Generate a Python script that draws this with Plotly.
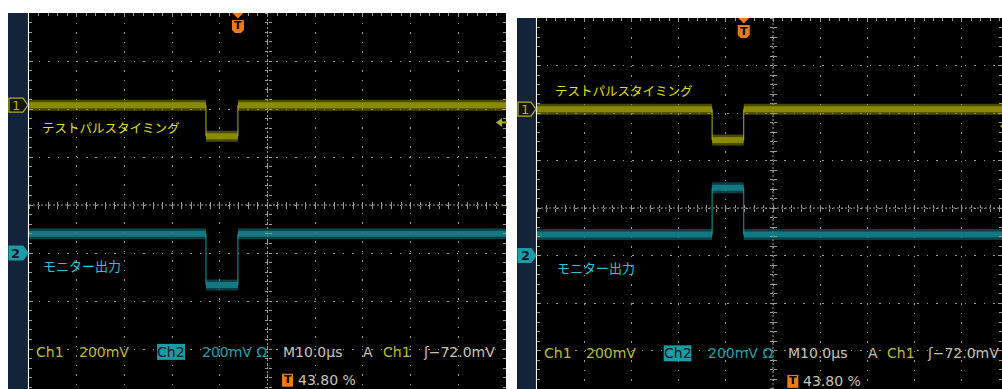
import plotly.graph_objects as go

# ---------------- acquisition settings ----------------
TIME_PER_DIV_US = 10.0
TRIGGER_POS_PCT = 43.80
N_HDIV = 10
VOLTS_PER_DIV_MV = 200
TRIGGER_LEVEL_MV = -72.0
CH1_POS_DIV = 2.08
CH2_POS_DIV = -1.0

# ---------------- waveform data ----------------
# each channel: [baseline, pulse level, baseline] in mV; pulse edges in µs
pulse_a_us = [-6.7, 0.0]
ch1_a_mv = [0, -130, 0]
ch2_a_mv = [80, -133, 80]

pulse_b_us = [-6.7, 0.0]
ch1_b_mv = [0, -130, 0]
ch2_b_mv = [88, 285, 88]

ch1_label = "テストパルスタイミング"
ch2_label = "モニター出力"

# ---------------- page geometry ----------------
W, H = 1002, 389

panels = [
    dict(left=29, right=506, top=13, hdiv=47.7, vdiv=48.0, strip=8,
         pulse=pulse_a_us, ch1=ch1_a_mv, ch2=ch2_a_mv,
         lab1=(40, 127), lab2=(41, 265)),
    dict(left=537, right=1010, top=18, hdiv=47.2, vdiv=47.5, strip=517,
         pulse=pulse_b_us, ch1=ch1_b_mv, ch2=ch2_b_mv,
         lab1=(553, 90), lab2=(555, 267)),
]

# colours
BG_STRIP = "#12233a"
GRID = "#9a9a86"
CENTER = "#9a9a86"
CH1_BAND = "rgba(135,135,0,0.55)"
CH1_MID = "rgba(160,160,10,0.75)"
CH1_CORE = "#b0b020"
CH2_BAND = "rgba(16,115,125,0.55)"
CH2_MID = "rgba(22,140,150,0.75)"
CH2_CORE = "#1a9ca6"
CH1_TXT = "#bcbc2c"
CH2_TXT = "#1aa2ae"
NEUTRAL = "#c8c4b0"
LAB1 = "#e2e200"
LAB2 = "#26c4dc"
ORANGE = "#f07a10"
MONO = "DejaVu Sans"
JP = "Noto Sans CJK JP"


def pt(x, y):
    return f"{x / W:.5f},{1 - y / H:.5f}"


def path(points):
    return "M" + " L".join(pt(x, y) for x, y in points) + " Z"


t0 = -TRIGGER_POS_PCT / 100 * N_HDIV * TIME_PER_DIV_US
t_full = t0 + N_HDIV * TIME_PER_DIV_US
center_t = t0 + N_HDIV / 2 * TIME_PER_DIV_US

fig = go.Figure()
shapes, annotations = [], []
layout_axes = {}
extra = 3  # next free axis index for the centre-line tick scales

for i, p in enumerate(panels):
    xa = "x" if i == 0 else f"x{i + 1}"
    ya = "y" if i == 0 else f"y{i + 1}"
    xkey = "xaxis" if i == 0 else f"xaxis{i + 1}"
    ykey = "yaxis" if i == 0 else f"yaxis{i + 1}"

    left, top, hdiv, vdiv = p["left"], p["top"], p["hdiv"], p["vdiv"]
    cy = top + 4 * vdiv
    right_vis = min(p["right"], W)
    t_end = t0 + (right_vis - left) / hdiv * TIME_PER_DIV_US
    y_bot = -(H - cy) / vdiv

    def tx(t, left=left, hdiv=hdiv):
        return left + (t - t0) / TIME_PER_DIV_US * hdiv

    def dy(d, cy=cy, vdiv=vdiv):
        return cy - d * vdiv

    cx = tx(center_t)

    layout_axes[xkey] = dict(
        domain=[left / W, right_vis / W], range=[t0, t_end], anchor=ya,
        side="top", showgrid=True, gridcolor=GRID, griddash="1.5px,8px",
        gridwidth=1, dtick=TIME_PER_DIV_US, tick0=t0, showticklabels=False,
        ticks="inside", ticklen=4, tickcolor=GRID,
        minor=dict(dtick=TIME_PER_DIV_US / 5, tick0=t0, ticks="inside",
                   ticklen=3, tickcolor=GRID, showgrid=False),
        zeroline=False, showline=False, fixedrange=True)
    layout_axes[ykey] = dict(
        domain=[0, 1 - top / H], range=[y_bot, 4], anchor=xa,
        showgrid=True, gridcolor=GRID, griddash="1.5px,8px", gridwidth=1,
        dtick=1, tick0=0, showticklabels=False, ticks="inside", ticklen=4,
        tickcolor=GRID, mirror="ticks",
        minor=dict(dtick=0.2, tick0=0, ticks="inside", ticklen=3,
                   tickcolor=GRID, showgrid=False),
        zeroline=False, showline=False, fixedrange=True)

    # tick scales along the centre crosshair (one scale per tick direction)
    for direction in ("inside", "outside"):
        layout_axes[f"xaxis{extra}"] = dict(
            overlaying=xa, anchor="free", position=1 - cy / H, side="bottom",
            range=[t0, t_end], dtick=TIME_PER_DIV_US / 5, tick0=t0,
            ticks=direction, ticklen=3, tickcolor=GRID, showgrid=False,
            showticklabels=False, zeroline=False, showline=False, fixedrange=True)
        layout_axes[f"yaxis{extra}"] = dict(
            overlaying=ya, anchor="free", position=cx / W, side="left",
            range=[y_bot, 4], dtick=0.2, tick0=0,
            ticks=direction, ticklen=3, tickcolor=GRID, showgrid=False,
            showticklabels=False, zeroline=False, showline=False, fixedrange=True)
        # empty trace so the scale pair is laid out
        fig.add_trace(go.Scatter(x=[], y=[], xaxis=f"x{extra}", yaxis=f"y{extra}",
                                 hoverinfo="skip", showlegend=False))
        extra += 1

    # waveform traces
    ps, pe = p["pulse"]
    for mv, pos, band, mid, core in (
            (p["ch1"], CH1_POS_DIV, CH1_BAND, CH1_MID, CH1_CORE),
            (p["ch2"], CH2_POS_DIV, CH2_BAND, CH2_MID, CH2_CORE)):
        lv = [pos + v / VOLTS_PER_DIV_MV for v in mv]
        xs = [t0, ps, None, ps, pe, None, pe, t_full]
        ys = [lv[0], lv[0], None, lv[1], lv[1], None, lv[2], lv[2]]
        for col, wd in ((band, 11), (mid, 6)):
            fig.add_trace(go.Scatter(x=xs, y=ys, xaxis=xa, yaxis=ya, mode="lines",
                                     line=dict(color=col, width=wd),
                                     hoverinfo="skip", showlegend=False))
        fig.add_trace(go.Scatter(x=[ps, ps, None, pe, pe],
                                 y=[lv[0], lv[1], None, lv[1], lv[2]],
                                 xaxis=xa, yaxis=ya, mode="lines",
                                 line=dict(color=core, width=1),
                                 hoverinfo="skip", showlegend=False))

    # side strip
    shapes.append(dict(type="rect", xref="paper", yref="paper", layer="below",
                       x0=p["strip"] / W, x1=(left - 1) / W, y0=0, y1=1 - top / H,
                       fillcolor=BG_STRIP, line=dict(width=0)))
    shapes.append(dict(type="line", xref="paper", yref="paper", layer="below",
                       x0=(left - 1.5) / W, x1=(left - 1.5) / W, y0=0, y1=1 - top / H,
                       line=dict(color="#1d2f5a", width=1)))

    # centre crosshair
    shapes.append(dict(type="line", xref="paper", yref="paper", layer="below",
                       x0=left / W, x1=right_vis / W, y0=1 - cy / H, y1=1 - cy / H,
                       line=dict(color=CENTER, width=1, dash="2px,2px")))
    shapes.append(dict(type="line", xref="paper", yref="paper", layer="below",
                       x0=cx / W, x1=cx / W, y0=0, y1=1 - top / H,
                       line=dict(color=CENTER, width=1, dash="2px,2px")))

    # trigger position marker
    tt = tx(0.0)
    shapes.append(dict(type="path", xref="paper", yref="paper",
                       path=path([(tt - 5.5, top), (tt + 5.5, top), (tt, top + 5.5)]),
                       fillcolor=ORANGE, line=dict(width=0)))
    shapes.append(dict(type="path", xref="paper", yref="paper",
                       path=path([(tt - 6, top + 7), (tt + 6, top + 7), (tt + 6, top + 17),
                                  (tt + 3, top + 20), (tt - 3, top + 20), (tt - 6, top + 17)]),
                       fillcolor=ORANGE, line=dict(width=0)))
    annotations.append(dict(text="<b>T</b>", x=tt / W, y=1 - (top + 13) / H,
                            xref="paper", yref="paper", showarrow=False,
                            font=dict(family=MONO, size=11, color="#000000"),
                            xanchor="center", yanchor="middle"))

    # trigger level arrow at the right edge
    ty = dy(CH1_POS_DIV + TRIGGER_LEVEL_MV / VOLTS_PER_DIV_MV)
    ax0 = p["right"] - 10
    shapes.append(dict(type="path", xref="paper", yref="paper",
                       path=path([(ax0, ty), (ax0 + 6, ty - 4.5), (ax0 + 6, ty + 4.5)]),
                       fillcolor=CH1_CORE, line=dict(width=0)))
    shapes.append(dict(type="line", xref="paper", yref="paper",
                       x0=(ax0 + 5) / W, x1=(ax0 + 11) / W, y0=1 - ty / H, y1=1 - ty / H,
                       line=dict(color=CH1_CORE, width=2)))

    # channel ground markers
    s0 = p["strip"] + 1
    for num, pos, filled, col in (("1", CH1_POS_DIV, False, CH1_CORE),
                                   ("2", CH2_POS_DIV, True, CH2_CORE)):
        my = dy(pos)
        pts = [(s0, my - 7), (left - 6, my - 7), (left - 1, my),
               (left - 6, my + 7), (s0, my + 7)]
        shapes.append(dict(type="path", xref="paper", yref="paper", path=path(pts),
                           fillcolor=col if filled else "#14140a",
                           line=dict(color=col, width=1.2)))
        annotations.append(dict(text=f"<b>{num}</b>" if filled else num,
                                x=(s0 + 7) / W, y=1 - my / H,
                                xref="paper", yref="paper", showarrow=False,
                                font=dict(family=MONO, size=13,
                                          color="#0c1a26" if filled else col),
                                xanchor="center", yanchor="middle"))

    # channel labels
    for txt, (lx, ly), col, sz in ((ch1_label, p["lab1"], LAB1, 12.5),
                                    (ch2_label, p["lab2"], LAB2, 13)):
        annotations.append(dict(text=txt, x=lx / W, y=1 - ly / H, xref="paper",
                                yref="paper", showarrow=False, xanchor="left",
                                yanchor="middle",
                                font=dict(family=JP, size=sz, color=col)))

    # readout line
    ry = cy + 3.06 * vdiv
    ry2 = cy + 3.64 * vdiv

    def rx(x_ref, left=left, hdiv=hdiv):
        return left + (x_ref - 29) / 47.7 * hdiv

    trig_txt = f"{TRIGGER_LEVEL_MV:.1f}mV".replace("-", "\u2212")
    readout = [
        ("Ch1", 34, CH1_TXT),
        (f"{VOLTS_PER_DIV_MV}mV", 77, CH1_TXT),
        (f"{VOLTS_PER_DIV_MV}mV \u03a9", 200, CH2_TXT),
        (f"M{TIME_PER_DIV_US:.1f}\u00b5s", 281, NEUTRAL),
        ("A", 361, NEUTRAL),
        ("Ch1", 381, CH1_TXT),
        ("\u0283" + trig_txt, 421, NEUTRAL),
    ]
    for txt, xr, col in readout:
        annotations.append(dict(text=txt, x=rx(xr) / W, y=1 - ry / H, xref="paper",
                                yref="paper", showarrow=False, xanchor="left",
                                yanchor="middle",
                                font=dict(family=MONO, size=14, color=col)))
    # Ch2 highlighted box
    bx0, bx1 = rx(157), rx(185)
    shapes.append(dict(type="rect", xref="paper", yref="paper",
                       x0=bx0 / W, x1=bx1 / W, y0=1 - (ry + 8) / H, y1=1 - (ry - 8) / H,
                       fillcolor=CH2_CORE, line=dict(width=0)))
    annotations.append(dict(text="Ch2", x=(bx0 + bx1) / 2 / W, y=1 - ry / H,
                            xref="paper", yref="paper", showarrow=False,
                            xanchor="center", yanchor="middle",
                            font=dict(family=MONO, size=14, color="#06181c")))
    # trigger position readout
    ix0 = rx(282)
    shapes.append(dict(type="rect", xref="paper", yref="paper",
                       x0=ix0 / W, x1=(ix0 + 11) / W, y0=1 - (ry2 + 7) / H,
                       y1=1 - (ry2 - 6) / H, fillcolor=ORANGE, line=dict(width=0)))
    annotations.append(dict(text="<b>T</b>", x=(ix0 + 5.5) / W, y=1 - ry2 / H,
                            xref="paper", yref="paper", showarrow=False,
                            xanchor="center", yanchor="middle",
                            font=dict(family=MONO, size=11, color="#000000")))
    annotations.append(dict(text=f"{TRIGGER_POS_PCT:.2f} %", x=(ix0 + 14) / W,
                            y=1 - ry2 / H, xref="paper", yref="paper",
                            showarrow=False, xanchor="left", yanchor="middle",
                            font=dict(family=MONO, size=14, color=NEUTRAL)))

fig.update_layout(
    width=W, height=H, margin=dict(l=0, r=0, t=0, b=0),
    paper_bgcolor="#ffffff", plot_bgcolor="#000000",
    showlegend=False, shapes=shapes, annotations=annotations, **layout_axes)

fig.write_html("out.html", config={"displayModeBar": False})
